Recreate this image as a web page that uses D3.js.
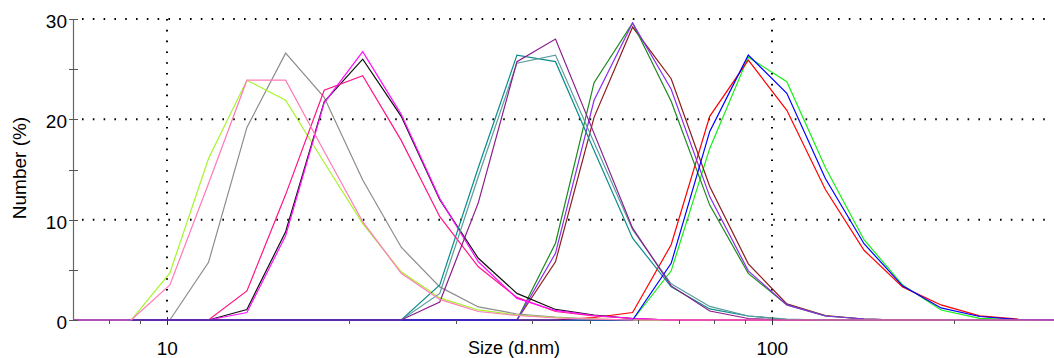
<!DOCTYPE html>
<html><head><meta charset="utf-8">
<script src="https://cdn.jsdelivr.net/npm/d3@7"></script>
<style>
body{margin:0;background:#fff;}
svg{display:block;}
text{font-family:"Liberation Sans",Arial,sans-serif;fill:#000;}
</style>
</head><body>
<svg id="chart" width="1054" height="358"></svg>
<script>
// Size bins (d.nm)
const sizes = [6.503, 7.531, 8.721, 10.1, 11.7, 13.54, 15.69, 18.17, 21.04, 24.36, 28.21, 32.67, 37.84, 43.82, 50.75, 58.77, 68.06, 78.82, 91.28, 105.7, 122.4, 141.8, 164.2, 190.1, 220.2, 255.0, 295.3];

// Number (%) per record
const recYellowGreen = [0,0,0,4.7,16.1,23.9,21.9,15.7,9.6,4.8,2.2,1.0,0.5,0.25,0.1,0,0,0,0,0,0,0,0,0,0,0,0];
const recPink        = [0,0,0,3.5,13.6,23.9,23.9,16.8,9.8,4.65,2.05,0.85,0.45,0.2,0.08,0,0,0,0,0,0,0,0,0,0,0,0];
const recGray        = [0,0,0,0,5.75,19.2,26.6,22.2,13.95,7.25,3.3,1.3,0.6,0.3,0.1,0,0,0,0,0,0,0,0,0,0,0,0];
const recMagenta     = [0,0,0,0,0,0.75,8.4,21.65,26.75,20.5,12.1,5.8,2.15,0.95,0.45,0.15,0,0,0,0,0,0,0,0,0,0,0];
const recBlack       = [0,0,0,0,0,1.05,8.8,21.75,26.0,20.3,12.0,6.15,2.65,1.05,0.5,0.15,0,0,0,0,0,0,0,0,0,0,0];
const recDeepPink    = [0,0,0,0,0,2.9,12.5,22.9,24.35,17.9,10.3,5.3,2.25,0.85,0.4,0.15,0,0,0,0,0,0,0,0,0,0,0];
const recTeal        = [0,0,0,0,0,0,0,0,0,0,3.5,15.2,26.4,25.75,16.9,8.15,3.3,1.1,0.4,0.05,0,0,0,0,0,0,0];
const recCadet       = [0,0,0,0,0,0,0,0,0,0,2.65,14.3,25.6,26.4,17.7,9.0,3.6,1.35,0.4,0.1,0,0,0,0,0,0,0];
const recPurple      = [0,0,0,0,0,0,0,0,0,0,1.8,11.7,25.75,28.0,18.6,9.15,3.4,0.9,0.15,0,0,0,0,0,0,0,0];
const recGreen       = [0,0,0,0,0,0,0,0,0,0,0,0,0,7.65,23.65,29.6,21.8,11.45,4.65,1.5,0.4,0.1,0,0,0,0,0];
const recViolet      = [0,0,0,0,0,0,0,0,0,0,0,0,0,6.65,21.9,29.6,23.0,12.3,4.9,1.5,0.4,0.1,0,0,0,0,0];
const recBrown       = [0,0,0,0,0,0,0,0,0,0,0,0,0,5.8,20.2,29.2,24.05,13.3,5.6,1.6,0.45,0.1,0,0,0,0,0];
const recRed         = [0,0,0,0,0,0,0,0,0,0,0,0,0,0,0.25,0.75,7.5,20.3,25.9,20.9,13.0,6.95,3.3,1.5,0.42,0.08,0];
const recBlue        = [0,0,0,0,0,0,0,0,0,0,0,0,0,0,0,0,5.65,18.8,26.4,22.6,14.1,7.6,3.4,1.2,0.35,0.05,0];
const recLime        = [0,0,0,0,0,0,0,0,0,0,0,0,0,0,0,0,4.9,17.1,26.2,23.75,15.2,8.0,3.5,1.0,0.17,0.03,0];

const yTickValues = [0,10,20,30];
const yMinorValues = [5,15,25];
const xTickLabels = [10,100];
const xMinorValues = [8,9,20,30,40,50,60,70,80,90,200];
const xTitle = "Size (d.nm)";
const yTitle = "Number (%)";

// drawing order (last on top)
const records = [
  {v: recLime, c: "#14f014"},
  {v: recRed, c: "#ff0000"},
  {v: recBrown, c: "#8b1c1c"},
  {v: recGreen, c: "#1a8a1a"},
  {v: recViolet, c: "#8c2cf0"},
  {v: recGray, c: "#8c8c8c"},
  {v: recYellowGreen, c: "#a6f52a"},
  {v: recBlack, c: "#111111"},
  {v: recDeepPink, c: "#ff1486"},
  {v: recMagenta, c: "#ff10ff"},
  {v: recTeal, c: "#0a8c8c"},
  {v: recCadet, c: "#5a9c9c"},
  {v: recBlue, c: "#0000ff"},
  {v: recPurple, c: "#8b1c8b"},
  {v: recPink, c: "#ff7ab8"}
];

const svg = d3.select("#chart");
const mLeft = 73, mRight = 1054, mTop = 19, mBottom = 320;

const x = d3.scaleLog().domain([6.985, 292.2]).range([mLeft, mRight]);
const y = d3.scaleLinear().domain([0, 30]).range([mBottom, mTop]);

svg.append("defs").append("clipPath").attr("id","plot")
  .append("rect").attr("x", mLeft).attr("y", 0).attr("width", mRight-mLeft).attr("height", mBottom+2);

// grid
const grid = svg.append("g");
grid.selectAll("line.h").data(yTickValues.filter(d=>d>0)).join("line")
  .attr("x1", mLeft+9).attr("x2", mRight)
  .attr("y1", d=>y(d)).attr("y2", d=>y(d))
  .attr("stroke","#000").attr("stroke-width",2).attr("stroke-dasharray","1.6,9.2");
grid.selectAll("line.v").data(xTickLabels).join("line")
  .attr("x1", d=>Math.round(x(d))).attr("x2", d=>Math.round(x(d)))
  .attr("y1", mTop).attr("y2", mBottom)
  .attr("stroke","#000").attr("stroke-width",2).attr("stroke-dasharray","1.6,9.2");

// x axis line
svg.append("line").attr("x1",mLeft).attr("x2",mRight).attr("y1",mBottom+0.5).attr("y2",mBottom+0.5)
  .attr("stroke","#777").attr("stroke-width",1);

// series
const line = d3.line().x((d,i)=>x(sizes[i])).y(d=>y(d));
svg.append("g").attr("clip-path","url(#plot)")
  .selectAll("path").data(records).join("path")
  .attr("d", d=>line(d.v))
  .attr("fill","none").attr("stroke", d=>d.c).attr("stroke-width",1.2)
  .attr("stroke-linejoin","miter");

// y axis
const yAxis = svg.append("g");
yAxis.append("line").attr("x1",mLeft+0.5).attr("x2",mLeft+0.5).attr("y1",mTop).attr("y2",mBottom)
  .attr("stroke","#666").attr("stroke-width",1.2);
yAxis.selectAll("line.t").data(yTickValues.concat(yMinorValues)).join("line")
  .attr("x1", mLeft-4).attr("x2", mLeft+5)
  .attr("y1", d=>Math.round(y(d))+0.5).attr("y2", d=>Math.round(y(d))+0.5)
  .attr("stroke","#555").attr("stroke-width",1);
yAxis.selectAll("text").data(yTickValues).join("text")
  .attr("x", mLeft-6).attr("y", d=>y(d)+9)
  .attr("text-anchor","end").attr("font-size",19).text(d=>d);

// x ticks
const xAxis = svg.append("g");
xAxis.selectAll("line.mi").data(xMinorValues).join("line")
  .attr("x1", d=>Math.round(x(d))+0.5).attr("x2", d=>Math.round(x(d))+0.5)
  .attr("y1", mBottom).attr("y2", mBottom+4)
  .attr("stroke","#555").attr("stroke-width",1);
xAxis.selectAll("line.ma").data(xTickLabels).join("line")
  .attr("x1", d=>Math.round(x(d))+0.5).attr("x2", d=>Math.round(x(d))+0.5)
  .attr("y1", mBottom-3).attr("y2", mBottom+5)
  .attr("stroke","#333").attr("stroke-width",1);
xAxis.selectAll("text").data(xTickLabels).join("text")
  .attr("x", d=>x(d)).attr("y", 355)
  .attr("text-anchor","middle").attr("font-size",19).text(d=>d);

// titles
svg.append("text").attr("x", 514).attr("y", 354).attr("text-anchor","middle")
  .attr("font-size",18).text(xTitle);
svg.append("text").attr("transform","translate(26,168) rotate(-90)")
  .attr("text-anchor","middle").attr("font-size",19).text(yTitle);
</script>
</body></html>
